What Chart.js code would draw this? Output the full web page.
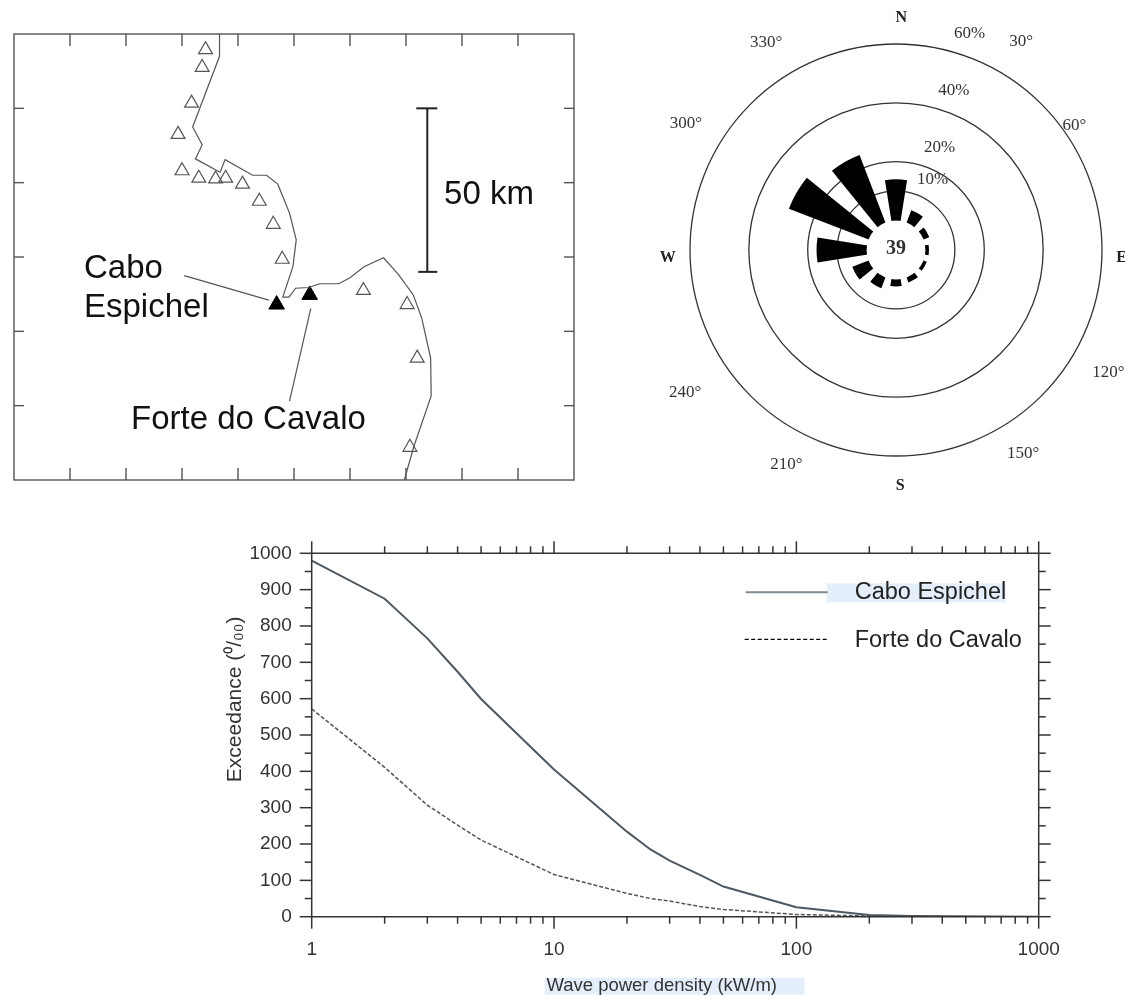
<!DOCTYPE html>
<html>
<head>
<meta charset="utf-8">
<title>Cabo Espichel / Forte do Cavalo</title>
<script src="https://cdn.jsdelivr.net/npm/chart.js@4"></script>
<style>
html,body{margin:0;padding:0;background:#fff;overflow:hidden}
canvas{position:absolute;display:block}
#mapChart{left:0;top:20px}
#roseChart{left:640px;top:0}
#powerChart{left:210px;top:520px}
</style>
</head>
<body>
<canvas id="mapChart" width="590" height="470"></canvas>
<canvas id="roseChart" width="485" height="500"></canvas>
<canvas id="powerChart" width="915" height="478"></canvas>
<script>
// Map: coast and stations, in grid units of the frame
const coastX = [3.67,3.67,3.19,3.36,3.24,3.68,3.77,4.26,4.51,4.71,4.92,5.04,4.98,4.80,4.91,5.03,5.26,5.46,5.80,6.00,6.25,6.60,6.87,7.13,7.28,7.44,7.45,7.14,6.97];
const coastY = [6.00,5.70,4.75,4.51,4.32,4.14,4.31,4.10,4.10,3.98,3.59,3.23,2.87,2.46,2.46,2.58,2.59,2.64,2.64,2.72,2.87,2.99,2.76,2.49,2.18,1.64,1.13,0.45,0];
const stationX = [3.42,3.36,3.17,2.93,3.00,3.30,3.60,3.78,4.08,4.38,4.63,4.79,6.24,7.02,7.20,7.07];
const stationY = [5.79,5.55,5.07,4.65,4.16,4.06,4.05,4.06,3.98,3.75,3.44,2.97,2.55,2.36,1.64,0.44];
const siteX = [4.69,5.28];
const siteY = [2.36,2.49];
const mapTicksX = [1,2,3,4,5,6,7,8,9];
const mapTicksY = [1,2,3,4,5];

// Rose: share per direction, percent
const roseDirections = [0,30,60,90,120,150,180,210,240,270,300,330];
const roseValues = [14,4.5,2.1,1.2,1.2,1.8,2.4,3.9,5.9,17,29,24.6];
const roseRings = [10,20,40,60];
const roseCalm = '39';
const compassText = ['N','E','S','W'];
const compassAngle = [1.3,92,179,268];
const compassDist = [69,66.7,70.3,67.6];
const degreeText = ['30°','60°','120°','150°','210°','240°','300°','330°'];
const degreeAngle = [31,55,120,148,207,236,301,328];
const degreeDist = [72.6,64,73.3,71.6,72,76.4,73.3,73.3];
const ringText = ['10%','20%','40%','60%'];
const ringAngle = [27.5,23,20,18.8];
const ringDist = [17,27.8,47.5,67.6];

// Exceedance curves
const powerX = [1,2,3,4,5,10,20,25,30,40,50,100,200,300,1000];
const caboEspichel = [980,875,766,674,599,405,234,185,154,115,83,26,5,2,0];
const forteCavalo = [572,411,307,252,211,116,64,50,43,28,20,6,2,0,0];
const xMajor = [1,10,100,1000];
const xMinor = [2,3,4,5,6,7,8,9,20,30,40,50,60,70,80,90,200,300,400,500,600,700,800,900];
const yMajor = [0,100,200,300,400,500,600,700,800,900,1000];
const yMinor = [50,150,250,350,450,550,650,750,850,950];

const SANS = '"Liberation Sans", Arial, sans-serif';
const SERIF = '"Liberation Serif", "Times New Roman", serif';
const INK = '#333';

function line(ctx,x1,y1,x2,y2){ctx.beginPath();ctx.moveTo(x1,y1);ctx.lineTo(x2,y2);ctx.stroke();}

// Map extras: frame, inner ticks, scale bar, leaders and names
const mapExtras = {
  id:'mapExtras',
  afterDatasetsDraw(chart){
    const {ctx,chartArea:a,scales:{x,y}} = chart;
    ctx.save();
    ctx.strokeStyle='#555'; ctx.lineWidth=1.4;
    ctx.strokeRect(a.left,a.top,a.width,a.height);
    mapTicksX.forEach(v=>{
      const px=x.getPixelForValue(v);
      line(ctx,px,a.top,px,a.top+12);
      line(ctx,px,a.bottom,px,a.bottom-12);
    });
    mapTicksY.forEach(v=>{
      const py=y.getPixelForValue(v);
      line(ctx,a.left,py,a.left+10,py);
      line(ctx,a.right,py,a.right-10,py);
    });
    // scale bar
    ctx.strokeStyle='#222'; ctx.lineWidth=2;
    const bx=x.getPixelForValue(7.38), by1=y.getPixelForValue(5), by2=y.getPixelForValue(2.8);
    line(ctx,bx,by1,bx,by2);
    line(ctx,bx-11,by1,bx+10,by1);
    line(ctx,bx-9,by2,bx+10,by2);
    // leaders
    ctx.strokeStyle='#555'; ctx.lineWidth=1.2;
    line(ctx,x.getPixelForValue(3.04),y.getPixelForValue(2.75),x.getPixelForValue(4.55),y.getPixelForValue(2.42));
    line(ctx,x.getPixelForValue(5.30),y.getPixelForValue(2.31),x.getPixelForValue(4.92),y.getPixelForValue(1.06));
    // names
    ctx.fillStyle='#111'; ctx.font='33px '+SANS; ctx.textBaseline='alphabetic'; ctx.textAlign='left';
    ctx.fillText('50 km',x.getPixelForValue(7.68),y.getPixelForValue(3.71));
    ctx.fillText('Cabo',x.getPixelForValue(1.25),y.getPixelForValue(2.72));
    ctx.fillText('Espichel',x.getPixelForValue(1.25),y.getPixelForValue(2.19));
    ctx.fillText('Forte do Cavalo',x.getPixelForValue(2.09),y.getPixelForValue(0.68));
    ctx.restore();
  }
};

new Chart(document.getElementById('mapChart'),{
  type:'scatter',
  data:{datasets:[
    {data:coastX.map((v,i)=>({x:v,y:coastY[i]})),showLine:true,borderColor:'#555',borderWidth:1.2,pointRadius:0,tension:0},
    {data:stationX.map((v,i)=>({x:v,y:stationY[i]})),pointStyle:'triangle',pointRadius:8,pointBorderColor:'#555',pointBorderWidth:1.2,pointBackgroundColor:'rgba(255,255,255,0)'},
    {data:siteX.map((v,i)=>({x:v,y:siteY[i]})),pointStyle:'triangle',pointRadius:9,pointBorderColor:'#000',pointBackgroundColor:'#000'}
  ]},
  options:{
    responsive:false,animation:false,devicePixelRatio:1,
    layout:{padding:{left:14,right:16,top:14,bottom:9}},
    plugins:{legend:{display:false},tooltip:{enabled:false}},
    scales:{x:{display:false,min:0,max:10},y:{display:false,min:0,max:6}}
  },
  plugins:[mapExtras]
});

// Rose extras: calm hub on top of the wedges, and the labels round it
const roseExtras = {
  id:'roseExtras',
  afterDatasetsDraw(chart){
    const {ctx,scales:{r}} = chart;
    const cx=r.xCenter, cy=r.yCenter;
    const put=(txt,ang,dist)=>{
      const d=r.getDistanceFromCenterForValue(dist), rad=ang*Math.PI/180;
      ctx.fillText(txt,cx+d*Math.sin(rad),cy-d*Math.cos(rad));
    };
    ctx.save();
    ctx.fillStyle='#fff';
    ctx.beginPath();ctx.arc(cx,cy,r.getDistanceFromCenterForValue(0),0,Math.PI*2);ctx.fill();
    ctx.textAlign='center';ctx.textBaseline='middle';
    ctx.fillStyle='#333';ctx.font='bold 20px '+SERIF;
    ctx.fillText(roseCalm,cx,cy-1);
    ctx.font='bold 16px '+SERIF;ctx.fillStyle='#222';
    compassText.forEach((t,i)=>put(t,compassAngle[i],compassDist[i]));
    ctx.font='17px '+SERIF;ctx.fillStyle='#333';
    degreeText.forEach((t,i)=>put(t,degreeAngle[i],degreeDist[i]));
    ringText.forEach((t,i)=>put(t,ringAngle[i],ringDist[i]));
    ctx.restore();
  }
};

// every direction is a wedge followed by an empty gap slice
const roseLabels=[], roseData=[];
roseDirections.forEach((d,i)=>{
  roseLabels.push(d+'°',''); roseData.push(roseValues[i],0);
});

new Chart(document.getElementById('roseChart'),{
  type:'polarArea',
  data:{labels:roseLabels,datasets:[{
    data:roseData,
    angle:c=>c.dataIndex%2?12:18,
    backgroundColor:c=>c.dataIndex%2?'rgba(0,0,0,0)':'#000',
    borderWidth:0
  }]},
  options:{
    responsive:false,animation:false,devicePixelRatio:1,
    layout:{padding:{left:50,right:23,top:44,bottom:44}},
    plugins:{legend:{display:false},tooltip:{enabled:false}},
    scales:{r:{
      min:-10,max:60,startAngle:-9,
      afterBuildTicks:s=>{s.ticks=roseRings.map(v=>({value:v}));},
      ticks:{display:false},
      grid:{color:'#333',lineWidth:1.3,circular:true},
      angleLines:{display:false},
      pointLabels:{display:false}
    }}
  },
  plugins:[roseExtras]
});

// Power chart extras: ticks on all sides, titles, legend and highlights
const powerExtras = {
  id:'powerExtras',
  beforeDraw(chart){
    const {ctx,chartArea:a} = chart;
    ctx.save();
    ctx.fillStyle='#e4effb';
    ctx.fillRect(a.left+515,a.top+30,179,19);   // behind Cabo Espichel
    ctx.fillRect(a.left+233,a.bottom+61,260,17); // behind the x title
    ctx.restore();
  },
  afterDatasetsDraw(chart){
    const {ctx,chartArea:a,scales:{x,y}} = chart;
    ctx.save();
    ctx.strokeStyle=INK; ctx.lineWidth=1.5;
    line(ctx,a.left,a.top,a.right,a.top);
    line(ctx,a.left,a.bottom,a.right,a.bottom);
    line(ctx,a.left,a.top,a.left,a.bottom);
    line(ctx,a.right,a.top,a.right,a.bottom);
    const xt=(v,l)=>{const p=x.getPixelForValue(v);line(ctx,p,a.top,p,a.top-l);line(ctx,p,a.bottom,p,a.bottom+l);};
    const yt=(v,l)=>{const p=y.getPixelForValue(v);line(ctx,a.left,p,a.left-l,p);line(ctx,a.right,p,a.right+l,p);};
    xMajor.forEach(v=>xt(v,12)); xMinor.forEach(v=>xt(v,7));
    yMajor.forEach(v=>yt(v,12)); yMinor.forEach(v=>yt(v,7));

    // legend
    ctx.strokeStyle='#7f8c96'; ctx.lineWidth=2;
    line(ctx,a.left+434,a.top+39,a.left+516,a.top+39);
    ctx.strokeStyle='#000'; ctx.lineWidth=1.3; ctx.setLineDash([4,2.5]);
    line(ctx,a.left+433,a.top+86,a.left+517,a.top+86);
    ctx.setLineDash([]);
    ctx.fillStyle='#222'; ctx.font='23.5px '+SANS; ctx.textAlign='left'; ctx.textBaseline='middle';
    ctx.fillText('Cabo Espichel',a.left+543,a.top+39);
    ctx.fillText('Forte do Cavalo',a.left+543,a.top+87);

    // axis titles
    ctx.font='18.5px '+SANS; ctx.fillStyle=INK; ctx.textAlign='center';
    ctx.fillText('Wave power density (kW/m)',a.left+350,a.bottom+69);
    ctx.font='21px '+SANS;
    ctx.translate(a.left-76,a.top+146);
    ctx.rotate(-Math.PI/2);
    ctx.fillText('Exceedance (⁰/₀₀)',0,0);
    ctx.restore();
  }
};

new Chart(document.getElementById('powerChart'),{
  type:'line',
  data:{datasets:[
    {label:'Cabo Espichel',data:powerX.map((v,i)=>({x:v,y:caboEspichel[i]})),borderColor:'#4d5862',borderWidth:2,pointRadius:0,tension:0},
    {label:'Forte do Cavalo',data:powerX.map((v,i)=>({x:v,y:forteCavalo[i]})),borderColor:'#555',borderWidth:1.5,borderDash:[4,2],pointRadius:0,tension:0}
  ]},
  options:{
    responsive:false,animation:false,devicePixelRatio:1,
    layout:{padding:{left:0,right:86.3,top:33.3,bottom:0}},
    plugins:{legend:{display:false},tooltip:{enabled:false}},
    scales:{
      x:{
        type:'logarithmic',min:1,max:1000,
        afterBuildTicks:s=>{s.ticks=xMajor.map(v=>({value:v,major:true}));},
        afterFit:s=>{s.height=81.3;},
        grid:{display:false,drawTicks:false},border:{display:false},
        ticks:{autoSkip:false,maxRotation:0,padding:22,color:INK,font:{family:SANS,size:19},callback:v=>String(v)}
      },
      y:{
        min:0,max:1000,
        afterBuildTicks:s=>{s.ticks=yMajor.map(v=>({value:v}));},
        afterFit:s=>{s.width=101.7;},
        grid:{display:false,drawTicks:false},border:{display:false},
        ticks:{padding:20,color:INK,font:{family:SANS,size:19},callback:v=>String(v)}
      }
    }
  },
  plugins:[powerExtras]
});
</script>
</body>
</html>
